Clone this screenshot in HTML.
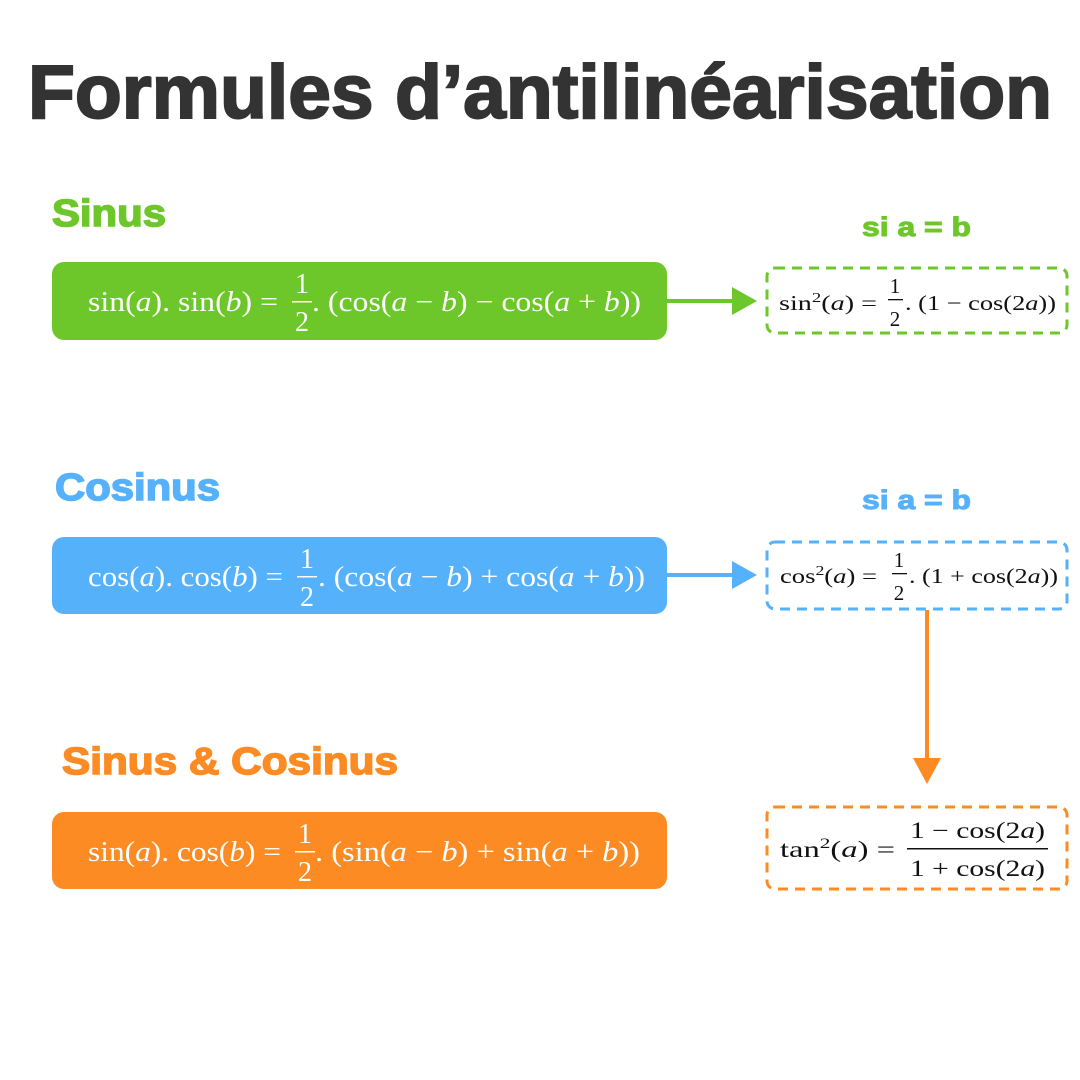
<!DOCTYPE html>
<html><head><meta charset="utf-8"><style>html,body{margin:0;padding:0;background:#fff}svg{display:block}</style></head><body>
<svg width="1080" height="1080" viewBox="0 0 1080 1080" xmlns="http://www.w3.org/2000/svg">
<rect width="1080" height="1080" fill="#fff"/>
<text x="28" y="118" font-family="Liberation Sans, sans-serif" font-weight="bold" font-size="76" fill="#333" stroke="#333" stroke-width="2" textLength="1024" lengthAdjust="spacingAndGlyphs">Formules d’antilinéarisation</text>

<g font-family="Liberation Sans, sans-serif" font-weight="bold">
<text x="52" y="226" font-size="38" fill="#6dc72a" stroke="#6dc72a" stroke-width="1.5" textLength="114" lengthAdjust="spacingAndGlyphs">Sinus</text>
<text x="862" y="236" font-size="27" fill="#6dc72a" stroke="#6dc72a" stroke-width="1" textLength="109" lengthAdjust="spacingAndGlyphs">si a = b</text>
<text x="55" y="500" font-size="38" fill="#56b1fb" stroke="#56b1fb" stroke-width="1.5" textLength="165" lengthAdjust="spacingAndGlyphs">Cosinus</text>
<text x="862" y="509" font-size="27" fill="#56b1fb" stroke="#56b1fb" stroke-width="1" textLength="109" lengthAdjust="spacingAndGlyphs">si a = b</text>
<text x="62" y="774" font-size="38" fill="#fb8b22" stroke="#fb8b22" stroke-width="1.5" textLength="336" lengthAdjust="spacingAndGlyphs">Sinus &amp; Cosinus</text>
</g>

<rect x="52" y="262" width="615" height="78" rx="12" fill="#6dc72a"/>
<rect x="52" y="537" width="615" height="77" rx="12" fill="#56b1fb"/>
<rect x="52" y="812" width="615" height="77" rx="12" fill="#fb8b22"/>

<g fill="none" stroke-width="3" stroke-dasharray="10 7">
<rect x="767" y="268" width="300" height="65" rx="8" stroke="#6dc72a"/>
<rect x="767" y="542" width="300" height="67" rx="8" stroke="#56b1fb"/>
<rect x="767" y="807" width="300" height="82" rx="8" stroke="#fb8b22"/>
</g>

<line x1="667" y1="301" x2="736" y2="301" stroke="#6dc72a" stroke-width="4"/>
<polygon points="732,287 757,301 732,315" fill="#6dc72a"/>
<line x1="667" y1="575" x2="736" y2="575" stroke="#56b1fb" stroke-width="4"/>
<polygon points="732,561 757,575 732,589" fill="#56b1fb"/>
<line x1="927" y1="610" x2="927" y2="762" stroke="#fb8b22" stroke-width="4"/>
<polygon points="913,758 941,758 927,784" fill="#fb8b22"/>

<g font-family="Liberation Serif, serif" font-size="28" fill="#fff">
<text x="88" y="311" textLength="190" lengthAdjust="spacingAndGlyphs">sin(<tspan font-style="italic">a</tspan>). sin(<tspan font-style="italic">b</tspan>) =</text>
<text x="302" y="293" text-anchor="middle">1</text><rect x="292" y="301" width="20" height="1.5" fill="#fff"/>
<text x="302" y="331" text-anchor="middle">2</text>
<text x="312" y="311" textLength="329" lengthAdjust="spacingAndGlyphs">. (cos(<tspan font-style="italic">a</tspan> − <tspan font-style="italic">b</tspan>) − cos(<tspan font-style="italic">a</tspan> + <tspan font-style="italic">b</tspan>))</text>

<text x="88" y="586" textLength="195" lengthAdjust="spacingAndGlyphs">cos(<tspan font-style="italic">a</tspan>). cos(<tspan font-style="italic">b</tspan>) =</text>
<text x="307" y="568" text-anchor="middle">1</text><rect x="297" y="576" width="20" height="1.5" fill="#fff"/>
<text x="307" y="606" text-anchor="middle">2</text>
<text x="318" y="586" textLength="327" lengthAdjust="spacingAndGlyphs">. (cos(<tspan font-style="italic">a</tspan> − <tspan font-style="italic">b</tspan>) + cos(<tspan font-style="italic">a</tspan> + <tspan font-style="italic">b</tspan>))</text>

<text x="88" y="861" textLength="193" lengthAdjust="spacingAndGlyphs">sin(<tspan font-style="italic">a</tspan>). cos(<tspan font-style="italic">b</tspan>) =</text>
<text x="305" y="843" text-anchor="middle">1</text><rect x="295" y="851" width="20" height="1.5" fill="#fff"/>
<text x="305" y="881" text-anchor="middle">2</text>
<text x="315" y="861" textLength="325" lengthAdjust="spacingAndGlyphs">. (sin(<tspan font-style="italic">a</tspan> − <tspan font-style="italic">b</tspan>) + sin(<tspan font-style="italic">a</tspan> + <tspan font-style="italic">b</tspan>))</text>
</g>

<g font-family="Liberation Serif, serif" font-size="21" fill="#111">
<text x="779" y="310" textLength="98" lengthAdjust="spacingAndGlyphs">sin<tspan font-size="14" dy="-8">2</tspan><tspan dy="8">(</tspan><tspan font-style="italic">a</tspan>) =</text>
<text x="895" y="293" text-anchor="middle">1</text><rect x="888" y="299" width="15" height="1.3" fill="#111"/>
<text x="895" y="326" text-anchor="middle">2</text>
<text x="905" y="310" textLength="151" lengthAdjust="spacingAndGlyphs">. (1 − cos(2<tspan font-style="italic">a</tspan>))</text>

<text x="780" y="583" textLength="97" lengthAdjust="spacingAndGlyphs">cos<tspan font-size="14" dy="-8">2</tspan><tspan dy="8">(</tspan><tspan font-style="italic">a</tspan>) =</text>
<text x="899" y="567" text-anchor="middle">1</text><rect x="892" y="573" width="15" height="1.3" fill="#111"/>
<text x="899" y="600" text-anchor="middle">2</text>
<text x="909" y="583" textLength="149" lengthAdjust="spacingAndGlyphs">. (1 + cos(2<tspan font-style="italic">a</tspan>))</text>

<text x="780" y="857" font-size="23" textLength="115" lengthAdjust="spacingAndGlyphs">tan<tspan font-size="15" dy="-9">2</tspan><tspan dy="9">(</tspan><tspan font-style="italic">a</tspan>) =</text>
<text x="910" y="838" font-size="23" textLength="135" lengthAdjust="spacingAndGlyphs">1 − cos(2<tspan font-style="italic">a</tspan>)</text>
<rect x="907" y="848" width="141" height="1.5" fill="#111"/>
<text x="910" y="876" font-size="23" textLength="135" lengthAdjust="spacingAndGlyphs">1 + cos(2<tspan font-style="italic">a</tspan>)</text>
</g>
</svg>
</body></html>
